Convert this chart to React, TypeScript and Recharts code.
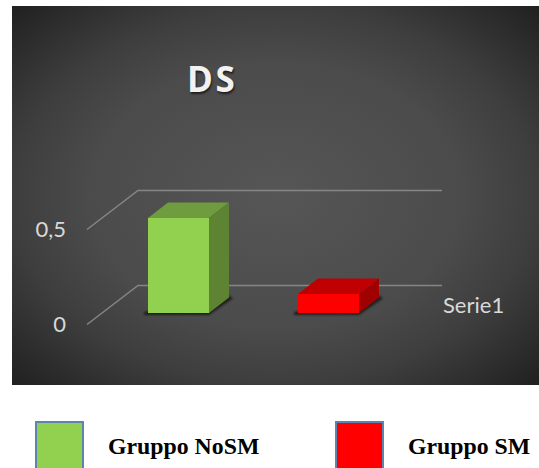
import React from "react";
import { BarChart, Bar, XAxis, YAxis, CartesianGrid } from "recharts";

const categories = ["Serie1"];
const noSmValues = [0.5];
const smValues = [0.1];
const yTicks = [0, 0.5];
const legendItems = [
  { label: "Gruppo NoSM", color: "#92d050", boxLeft: 35, textLeft: 108 },
  { label: "Gruppo SM", color: "#ff0000", boxLeft: 335, textLeft: 408 },
];

const chartData = categories.map((name, i) => ({
  name,
  noSm: noSmValues[i],
  sm: smValues[i],
}));

const DX = 20;
const DY = 15.5;
const LABEL_FONT = "Lato, 'Open Sans', sans-serif";

// Extruded box: front face, top face, right face and a soft contact shadow.
function Box3D(props: any) {
  const { x, y, width, height, fill, topFill, sideFill } = props;
  const r = x + width;
  const b = y + height;
  return (
    <g>
      <path
        d={`M${x - 4} ${b - 1} L${x - 4} ${b + 2} L${r} ${b + 2} L${r + DX + 4} ${b - DY + 1} L${r + DX} ${b - DY - 2} Z`}
        fill="#151515"
        opacity={0.8}
        style={{ filter: "blur(1px)" }}
      />
      <path d={`M${x} ${y} L${x + DX} ${y - DY} L${r + DX} ${y - DY} L${r} ${y} Z`} fill={topFill} />
      <path d={`M${r} ${y} L${r + DX} ${y - DY} L${r + DX} ${b - DY} L${r} ${b} Z`} fill={sideFill} />
      <rect x={x} y={y} width={width} height={height} fill={fill} />
    </g>
  );
}

// Grid line on the back wall, joined to the axis label by a slanted side-wall line.
function WallLine(props: any) {
  const { x1, y1, x2 } = props;
  const backY = y1 - 27.5;
  return (
    <path
      key={`wall-${y1}`}
      d={`M${x1} ${y1 + 11.5} L${x1 + 51} ${backY} L${x2 + 22} ${backY}`}
      fill="none"
      stroke="#868686"
      strokeWidth={1.5}
    />
  );
}

function ValueTick(props: any) {
  const { y, payload } = props;
  return (
    <text x={66} y={y + 19} textAnchor="end" fontSize={22} fill="#d9d9d9" fontFamily={LABEL_FONT}>
      {String(payload.value).replace(".", ",")}
    </text>
  );
}

function CategoryTick(props: any) {
  const { payload } = props;
  return (
    <text x={443} y={313} fontSize={22} fill="#d9d9d9" fontFamily={LABEL_FONT}>
      {payload.value}
    </text>
  );
}

export default function App() {
  return (
    <div style={{ position: "absolute", left: 0, top: 0, width: 539, height: 468, background: "#fff", overflow: "hidden" }}>
      <div
        style={{
          position: "absolute",
          left: 12,
          top: 6,
          width: 527,
          height: 379,
          background:
            "radial-gradient(ellipse farthest-corner at 50% 50%, #565656 0%, #4b4b4b 50%, #3e3e3e 70%, #202020 100%)",
        }}
      />
      <div
        style={{
          position: "absolute",
          left: 187,
          top: 55,
          fontFamily: "'Open Sans', sans-serif",
          fontWeight: 700,
          fontSize: 35,
          letterSpacing: 2.5,
          color: "#f2f2f2",
          textShadow: "1px 2px 2px rgba(0,0,0,0.6)",
        }}
      >
        DS
      </div>
      <div style={{ position: "absolute", left: 0, top: 0 }}>
        <BarChart
          width={539}
          height={468}
          data={chartData}
          margin={{ top: 218, right: 119, bottom: 125, left: 27 }}
          barSize={61}
          barGap={89}
        >
          <CartesianGrid vertical={false} horizontal={WallLine as any} />
          <XAxis dataKey="name" axisLine={false} tickLine={false} height={30} tick={<CategoryTick />} />
          <YAxis domain={[0, 0.5]} ticks={yTicks} width={60} axisLine={false} tickLine={false} tick={<ValueTick />} />
          <Bar
            dataKey="noSm"
            fill="#92d050"
            isAnimationActive={false}
            shape={(p: any) => <Box3D {...p} topFill="#6f9c3e" sideFill="#5e8433" />}
          />
          <Bar
            dataKey="sm"
            fill="#ff0000"
            isAnimationActive={false}
            shape={(p: any) => <Box3D {...p} topFill="#c00000" sideFill="#a00000" />}
          />
        </BarChart>
      </div>
      {legendItems.map((item) => (
        <React.Fragment key={item.label}>
          <div
            style={{
              position: "absolute",
              left: item.boxLeft,
              top: 421,
              width: 45,
              height: 50,
              background: item.color,
              border: "2.5px solid #5b84b1",
            }}
          />
          <div
            style={{
              position: "absolute",
              left: item.textLeft,
              top: 433,
              fontFamily: "'Liberation Serif', serif",
              fontWeight: 700,
              fontSize: 23.8,
              lineHeight: "26px",
              color: "#000",
              whiteSpace: "nowrap",
            }}
          >
            {item.label}
          </div>
        </React.Fragment>
      ))}
    </div>
  );
}
